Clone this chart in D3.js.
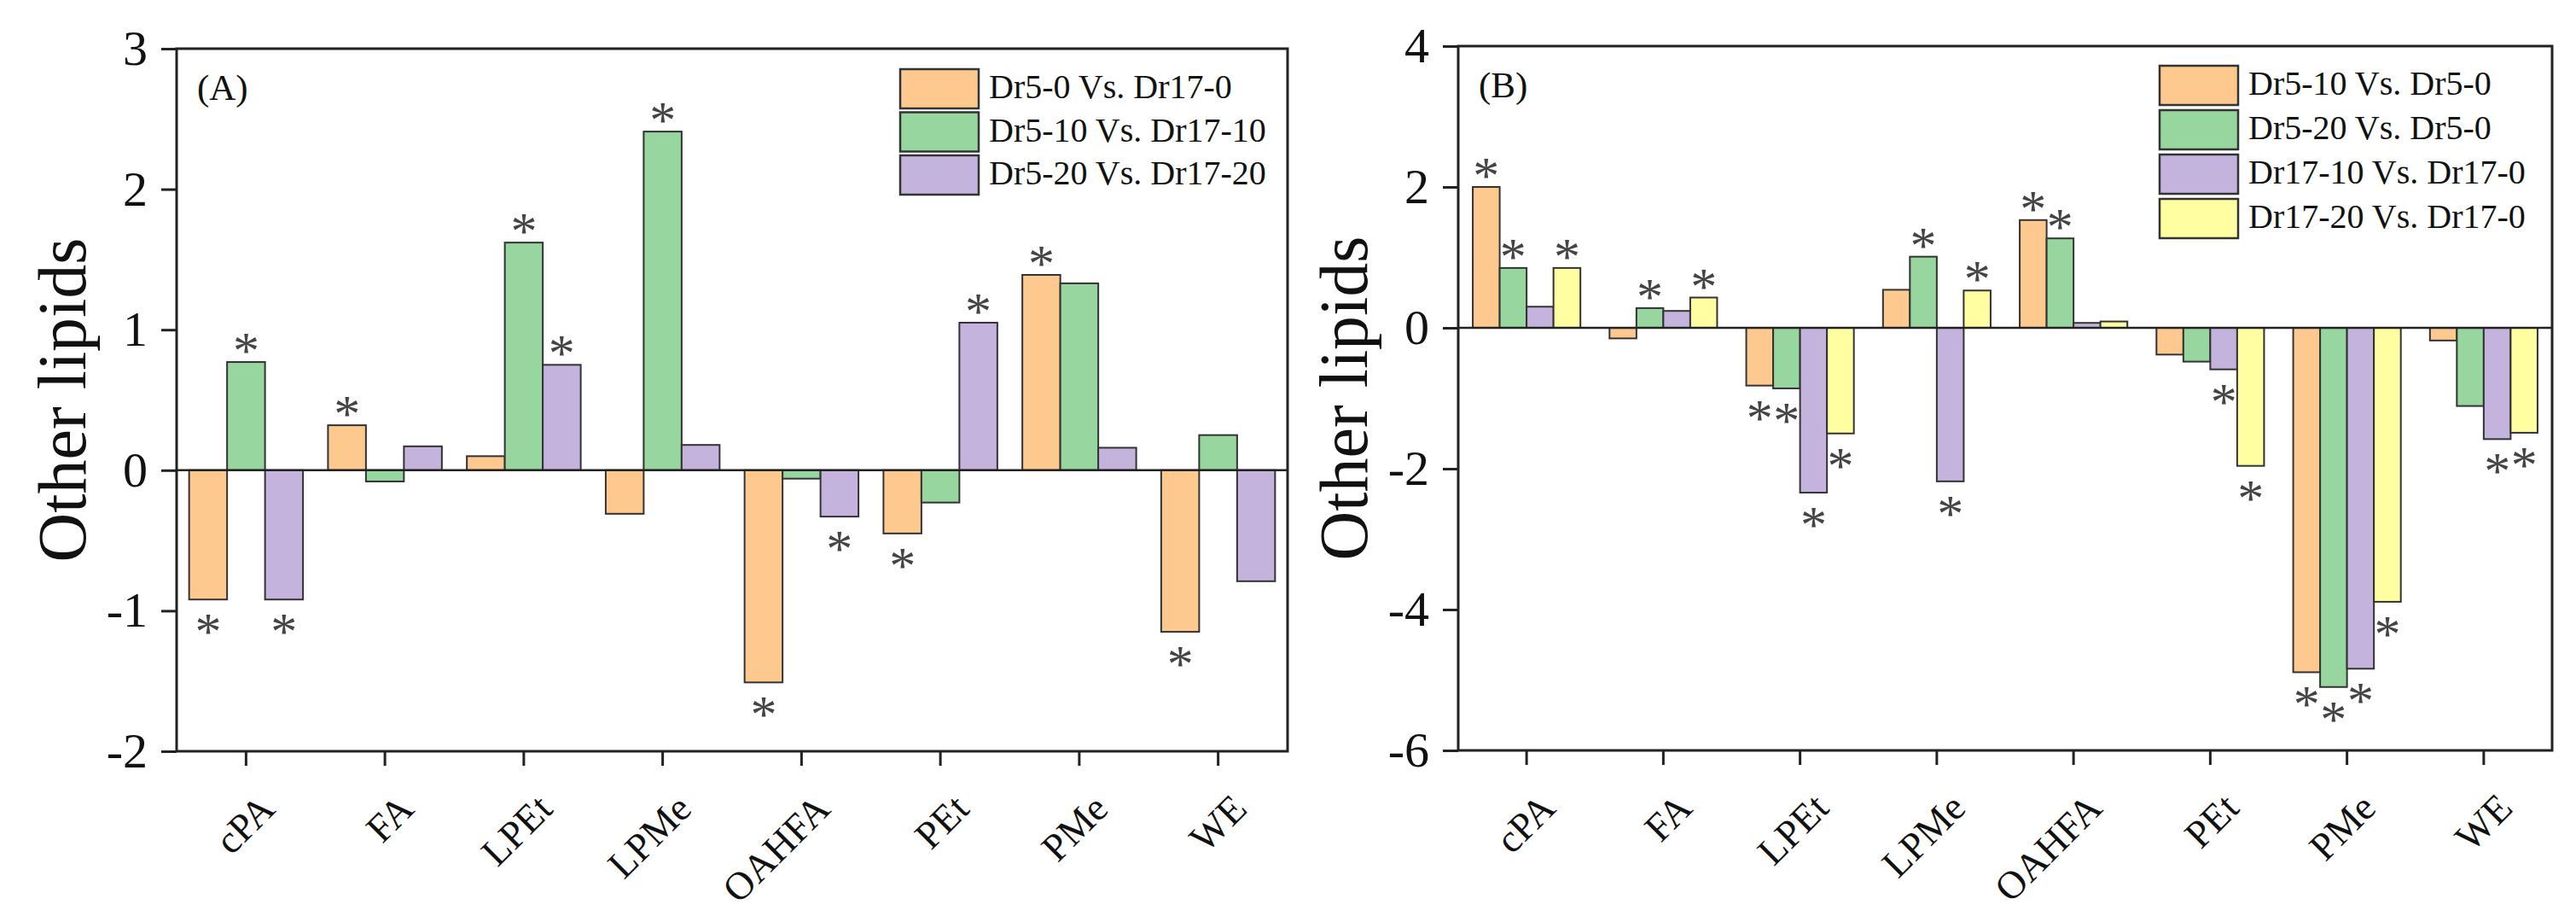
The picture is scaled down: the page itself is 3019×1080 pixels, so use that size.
<!DOCTYPE html>
<html>
<head>
<meta charset="utf-8">
<script src="https://cdn.jsdelivr.net/npm/d3@7"></script>
<style>
  body { margin: 0; background: #fff; }
  svg { display: block; font-family: "Liberation Serif", "DejaVu Serif", serif; }
</style>
</head>
<body>
<svg id="chart" width="3019" height="1080"></svg>
<script>
// categories shared by both panels
var categories = ["cPA", "FA", "LPEt", "LPMe", "OAHFA", "PEt", "PMe", "WE"];

// panel A series
var seriesA = ["Dr5-0 Vs. Dr17-0", "Dr5-10 Vs. Dr17-10", "Dr5-20 Vs. Dr17-20"];
var dr5_0_vs_dr17_0   = [-0.92, 0.32, 0.10, -0.31, -1.51, -0.45, 1.39, -1.15];
var dr5_10_vs_dr17_10 = [0.77, -0.08, 1.62, 2.41, -0.06, -0.23, 1.33, 0.25];
var dr5_20_vs_dr17_20 = [-0.92, 0.17, 0.75, 0.18, -0.33, 1.05, 0.16, -0.79];
// significance marks (1 = asterisk)
var sigA_0  = [1, 1, 0, 0, 1, 1, 1, 1];
var sigA_10 = [1, 0, 1, 1, 0, 0, 0, 0];
var sigA_20 = [1, 0, 1, 0, 1, 1, 0, 0];
var ticksA = [3, 2, 1, 0, -1, -2];

// panel B series
var seriesB = ["Dr5-10 Vs. Dr5-0", "Dr5-20 Vs. Dr5-0", "Dr17-10 Vs. Dr17-0", "Dr17-20 Vs. Dr17-0"];
var dr5_10_vs_dr5_0   = [2.00, -0.15, -0.82, 0.54, 1.53, -0.38, -4.89, -0.18];
var dr5_20_vs_dr5_0   = [0.85, 0.28, -0.86, 1.01, 1.27, -0.48, -5.10, -1.11];
var dr17_10_vs_dr17_0 = [0.30, 0.24, -2.34, -2.18, 0.07, -0.59, -4.84, -1.58];
var dr17_20_vs_dr17_0 = [0.85, 0.43, -1.50, 0.53, 0.09, -1.96, -3.89, -1.49];
var sigB_5_10  = [1, 0, 1, 0, 1, 0, 1, 0];
var sigB_5_20  = [1, 1, 1, 1, 1, 0, 1, 0];
var sigB_17_10 = [0, 0, 1, 1, 0, 1, 1, 1];
var sigB_17_20 = [1, 1, 1, 1, 0, 1, 1, 1];
var ticksB = [4, 2, 0, -2, -4, -6];

var colors = ["#FEC98F", "#97D69E", "#C4B4DD", "#FFFFA2"];

var svg = d3.select("#chart");

function drawPanel(opt) {
  var g = svg.append("g");
  var x = d3.scaleBand().domain(categories).range([opt.left, opt.right]).paddingInner(0).paddingOuter(0);
  var y = d3.scaleLinear().domain(opt.domain).range([opt.bottom, opt.top]);
  var groupW = x.bandwidth() * opt.groupFrac;
  var inner = d3.scaleBand().domain(d3.range(opt.values.length)).range([0, groupW]);

  // bars
  opt.values.forEach(function (vals, s) {
    g.selectAll(null).data(vals).enter().append("rect")
      .attr("x", function (d, i) { return x(categories[i]) + (x.bandwidth() - groupW) / 2 + inner(s); })
      .attr("y", function (d) { return y(Math.max(0, d)); })
      .attr("width", inner.bandwidth())
      .attr("height", function (d) { return Math.abs(y(d) - y(0)); })
      .attr("fill", colors[s])
      .attr("stroke", "#333")
      .attr("stroke-width", 2);
  });

  // asterisks
  opt.values.forEach(function (vals, s) {
    vals.forEach(function (d, i) {
      if (!opt.sig[s][i]) return;
      var cx = x(categories[i]) + (x.bandwidth() - groupW) / 2 + inner(s) + inner.bandwidth() / 2;
      var cy = d >= 0 ? y(d) - 24 : y(d) + 27;
      g.append("text")
        .attr("x", cx)
        .attr("y", cy + 31)
        .attr("text-anchor", "middle")
        .attr("font-size", 62)
        .attr("fill", "#444")
        .text("*");
    });
  });

  // zero line
  g.append("line")
    .attr("x1", opt.left).attr("x2", opt.right)
    .attr("y1", y(0)).attr("y2", y(0))
    .attr("stroke", "#222").attr("stroke-width", 2.5);

  // frame
  g.append("rect")
    .attr("x", opt.left).attr("y", opt.top)
    .attr("width", opt.right - opt.left).attr("height", opt.bottom - opt.top)
    .attr("fill", "none").attr("stroke", "#222").attr("stroke-width", 3);

  // y axis
  var ya = g.append("g").attr("transform", "translate(" + opt.left + ",0)")
    .call(d3.axisLeft(y).tickValues(opt.ticks).tickSize(18).tickPadding(16).tickFormat(function (d) { return String(d); }));
  ya.select(".domain").remove();
  ya.selectAll(".tick line").attr("stroke", "#222").attr("stroke-width", 3);
  ya.selectAll(".tick text").attr("font-size", 58).attr("fill", "#111")
    .attr("font-family", "Liberation Serif").attr("dy", "0.32em");

  // x axis
  var xa = g.append("g").attr("transform", "translate(0," + opt.bottom + ")")
    .call(d3.axisBottom(x).tickSize(17).tickSizeOuter(0));
  xa.select(".domain").remove();
  xa.selectAll(".tick line").attr("stroke", "#222").attr("stroke-width", 3);
  xa.selectAll(".tick text")
    .attr("x", 0).attr("y", 0).attr("dy", 0)
    .attr("text-anchor", "end")
    .attr("transform", "translate(36,70) rotate(-45)")
    .attr("font-size", 46).attr("fill", "#111").attr("font-family", "Liberation Serif");

  // y title
  g.append("text")
    .attr("transform", "translate(" + (opt.left - 107) + "," + ((opt.top + opt.bottom) / 2) + ") rotate(-90)")
    .attr("text-anchor", "middle")
    .attr("font-size", 80).attr("fill", "#111")
    .text("Other lipids");

  // panel label
  g.append("text").attr("x", opt.left + 24).attr("y", opt.top + 60)
    .attr("font-size", 43).attr("fill", "#111").text(opt.label);

  // legend
  var lg = g.append("g");
  opt.names.forEach(function (name, s) {
    lg.append("rect")
      .attr("x", opt.right - opt.legendOffset).attr("y", opt.legendTop + s * opt.legendStep)
      .attr("width", 92).attr("height", 46)
      .attr("fill", colors[s]).attr("stroke", "#333").attr("stroke-width", 2.5);
    lg.append("text")
      .attr("x", opt.right - opt.legendOffset + 104).attr("y", opt.legendTop + s * opt.legendStep + 34)
      .attr("font-size", 40).attr("fill", "#111").text(name);
  });
}

drawPanel({
  left: 207, right: 1509, top: 57, bottom: 880,
  domain: [-2, 3], ticks: ticksA, groupFrac: 0.82,
  values: [dr5_0_vs_dr17_0, dr5_10_vs_dr17_10, dr5_20_vs_dr17_20],
  sig: [sigA_0, sigA_10, sigA_20],
  names: seriesA, label: "(A)",
  legendOffset: 454, legendTop: 81, legendStep: 50.5
});

drawPanel({
  left: 1709, right: 2991, top: 54, bottom: 879,
  domain: [-6, 4], ticks: ticksB, groupFrac: 0.787,
  values: [dr5_10_vs_dr5_0, dr5_20_vs_dr5_0, dr17_10_vs_dr17_0, dr17_20_vs_dr17_0],
  sig: [sigB_5_10, sigB_5_20, sigB_17_10, sigB_17_20],
  names: seriesB, label: "(B)",
  legendOffset: 460, legendTop: 77, legendStep: 52
});
</script>
</body>
</html>
